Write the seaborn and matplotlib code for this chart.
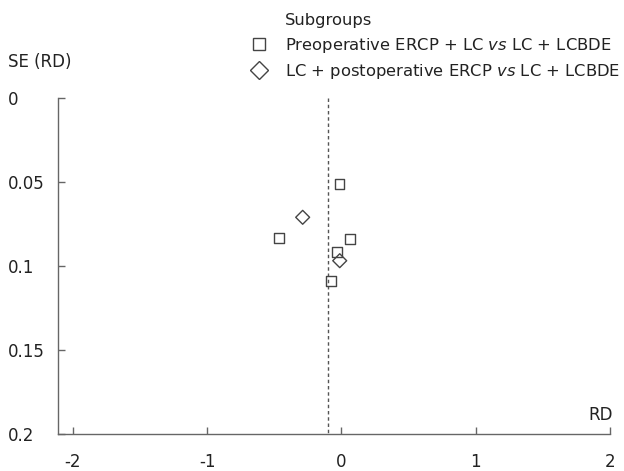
import numpy as np
import pandas as pd
import seaborn as sns
from matplotlib import pyplot as plt
from matplotlib.lines import Line2D

# funnel plot data: risk difference vs its standard error
groups = ["Preoperative ERCP + LC $\\it{vs}$ LC + LCBDE",
          "LC + postoperative ERCP $\\it{vs}$ LC + LCBDE"]
rd = [-0.015, -0.464, 0.065, -0.032, -0.08, -0.289, -0.013]
se = [0.0516, 0.0833, 0.0843, 0.092, 0.109, 0.0712, 0.097]
subgroup = [groups[0]] * 5 + [groups[1]] * 2
pooled_rd = -0.1
x_ticks = [-2, -1, 0, 1, 2]
y_ticks = [0, 0.05, 0.1, 0.15, 0.2]
y_tick_labels = ["0", "0.05", "0.1", "0.15", "0.2"]

df = pd.DataFrame({"rd": rd, "se": se, "subgroup": subgroup})

sns.set_style("white")
plt.rcParams['font.family'] = ['DejaVu Sans']
plt.rcParams['mathtext.fontset'] = 'dejavusans'
txt = '#222222'
axc = '#666666'
mk = '#444444'

fig = plt.figure(figsize=(6.24, 4.71), dpi=100)
ax = fig.add_axes([57.5 / 624, 37 / 471, 552.5 / 624, 336.5 / 471])

ax.plot([pooled_rd, pooled_rd], [0, 0.2], ls=(0, (2.5, 2)), color='#555555', lw=1)
sns.scatterplot(data=df, x="rd", y="se", style="subgroup",
                markers={groups[0]: "s", groups[1]: "D"},
                s=50, edgecolor=mk, linewidth=1, legend=False, ax=ax, zorder=3)
ax.collections[0].set_facecolor('none')

ax.set_xlim(-2.115, 2)
ax.set_ylim(0.2, 0)
ax.set_xticks(x_ticks)
ax.set_xticklabels([str(t) for t in x_ticks])
ax.set_yticks(y_ticks)
ax.set_yticklabels(y_tick_labels, ha='left')
ax.set_xlabel("")
ax.set_ylabel("")
sns.despine(ax=ax)
for sp in ['left', 'bottom']:
    ax.spines[sp].set_color(axc)
    ax.spines[sp].set_linewidth(1)
ax.tick_params(axis='both', which='major', bottom=True, left=True, direction='in',
               length=5, width=1, color=axc, labelsize=12, labelcolor=txt)
ax.tick_params(axis='y', pad=35.5)
ax.tick_params(axis='x', pad=14)

fig.text(8 / 624, 1 - 62 / 471, "SE (RD)", fontsize=12, color=txt, va='center', ha='left')
fig.text(613 / 624, 1 - 415 / 471, "RD", fontsize=12, color=txt, va='center', ha='right')
fig.text(285 / 624, 1 - 21 / 471, "Subgroups", fontsize=11.8, color=txt, va='center', ha='left')

handles = [Line2D([], [], ls='none', marker='s', markersize=9, mfc='none', mec=mk, mew=1),
           Line2D([], [], ls='none', marker='D', markersize=9.5, mfc='none', mec=mk, mew=1)]
leg = ax.legend(handles, groups, loc='upper left', bbox_to_anchor=(246.5 / 624, 1 - 36 / 471),
                bbox_transform=fig.transFigure, frameon=False, fontsize=11.8,
                borderpad=0, borderaxespad=0, handlelength=1.5, handletextpad=0.85,
                labelspacing=0.42)
for t in leg.get_texts():
    t.set_color(txt)

fig.savefig("out.png", dpi=100)
